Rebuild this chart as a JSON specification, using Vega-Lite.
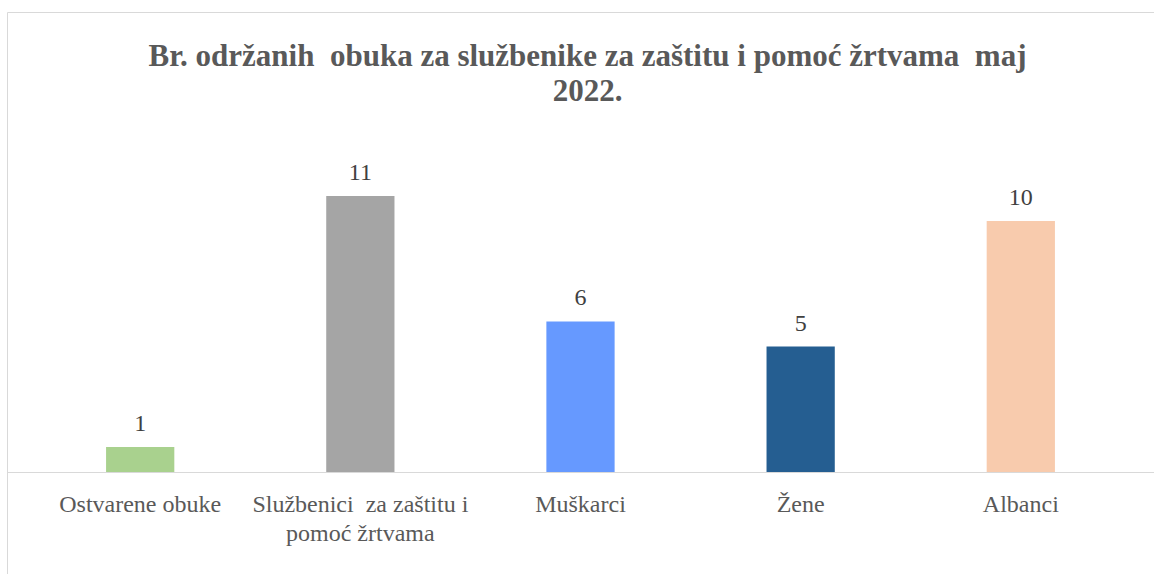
{
  "$schema": "https://vega.github.io/schema/vega-lite/v6.json",
  "autosize": "none",
  "width": 1147,
  "height": 562,
  "padding": {"left": 7, "top": 12, "right": 0, "bottom": 0},
  "background": "#ffffff",
  "title": {
    "text": ["Br. održanih \u00a0obuka za službenike za zaštitu i pomoć žrtvama \u00a0maj", "2022."],
    "font": "Liberation Serif",
    "fontSize": 31,
    "fontWeight": "bold",
    "color": "#595959",
    "anchor": "middle",
    "frame": "group",
    "baseline": "middle",
    "lineHeight": 35,
    "offset": -111,
    "dx": 7
  },
  "config": {
    "view": {"stroke": "#d9d9d9", "strokeWidth": 1},
    "font": "Liberation Serif"
  },
  "data": {
    "values": [
      {"kategorija": "Ostvarene obuke", "broj": 1},
      {"kategorija": "Službenici za zaštitu i pomoć žrtvama", "broj": 11},
      {"kategorija": "Muškarci", "broj": 6},
      {"kategorija": "Žene", "broj": 5},
      {"kategorija": "Albanci", "broj": 10}
    ]
  },
  "encoding": {
    "x": {
      "field": "kategorija",
      "type": "nominal",
      "sort": null,
      "scale": {"paddingInner": 0.69, "paddingOuter": 0.45},
      "axis": {
        "title": null,
        "orient": "bottom",
        "offset": -102,
        "labelAngle": 0,
        "ticks": false,
        "domainColor": "#d9d9d9",
        "domainWidth": 1,
        "labelPadding": 20,
        "labelFont": "Liberation Serif",
        "labelFontSize": 24,
        "labelColor": "#595959",
        "labelLineHeight": 29,
        "labelLimit": 0,
        "labelBaseline": "top",
        "labelExpr": "datum.label == 'Službenici za zaštitu i pomoć žrtvama' ? ['Službenici \u00a0za zaštitu i', 'pomoć žrtvama'] : datum.label"
      }
    },
    "y": {
      "field": "broj",
      "type": "quantitative",
      "scale": {"domain": [-4.06, 18.33], "nice": false, "zero": false},
      "axis": null
    }
  },
  "layer": [
    {
      "mark": {"type": "bar"},
      "encoding": {
        "y2": {"datum": 0},
        "color": {
          "field": "kategorija",
          "type": "nominal",
          "sort": null,
          "scale": {
            "domain": ["Ostvarene obuke", "Službenici za zaštitu i pomoć žrtvama", "Muškarci", "Žene", "Albanci"],
            "range": ["#a9d18e", "#a5a5a5", "#6699ff", "#255e91", "#f8cbad"]
          },
          "legend": null
        }
      }
    },
    {
      "mark": {"type": "text", "baseline": "alphabetic", "dy": -16, "font": "Liberation Serif", "fontSize": 24, "color": "#404040"},
      "encoding": {
        "text": {"field": "broj", "type": "quantitative"}
      }
    }
  ]
}
